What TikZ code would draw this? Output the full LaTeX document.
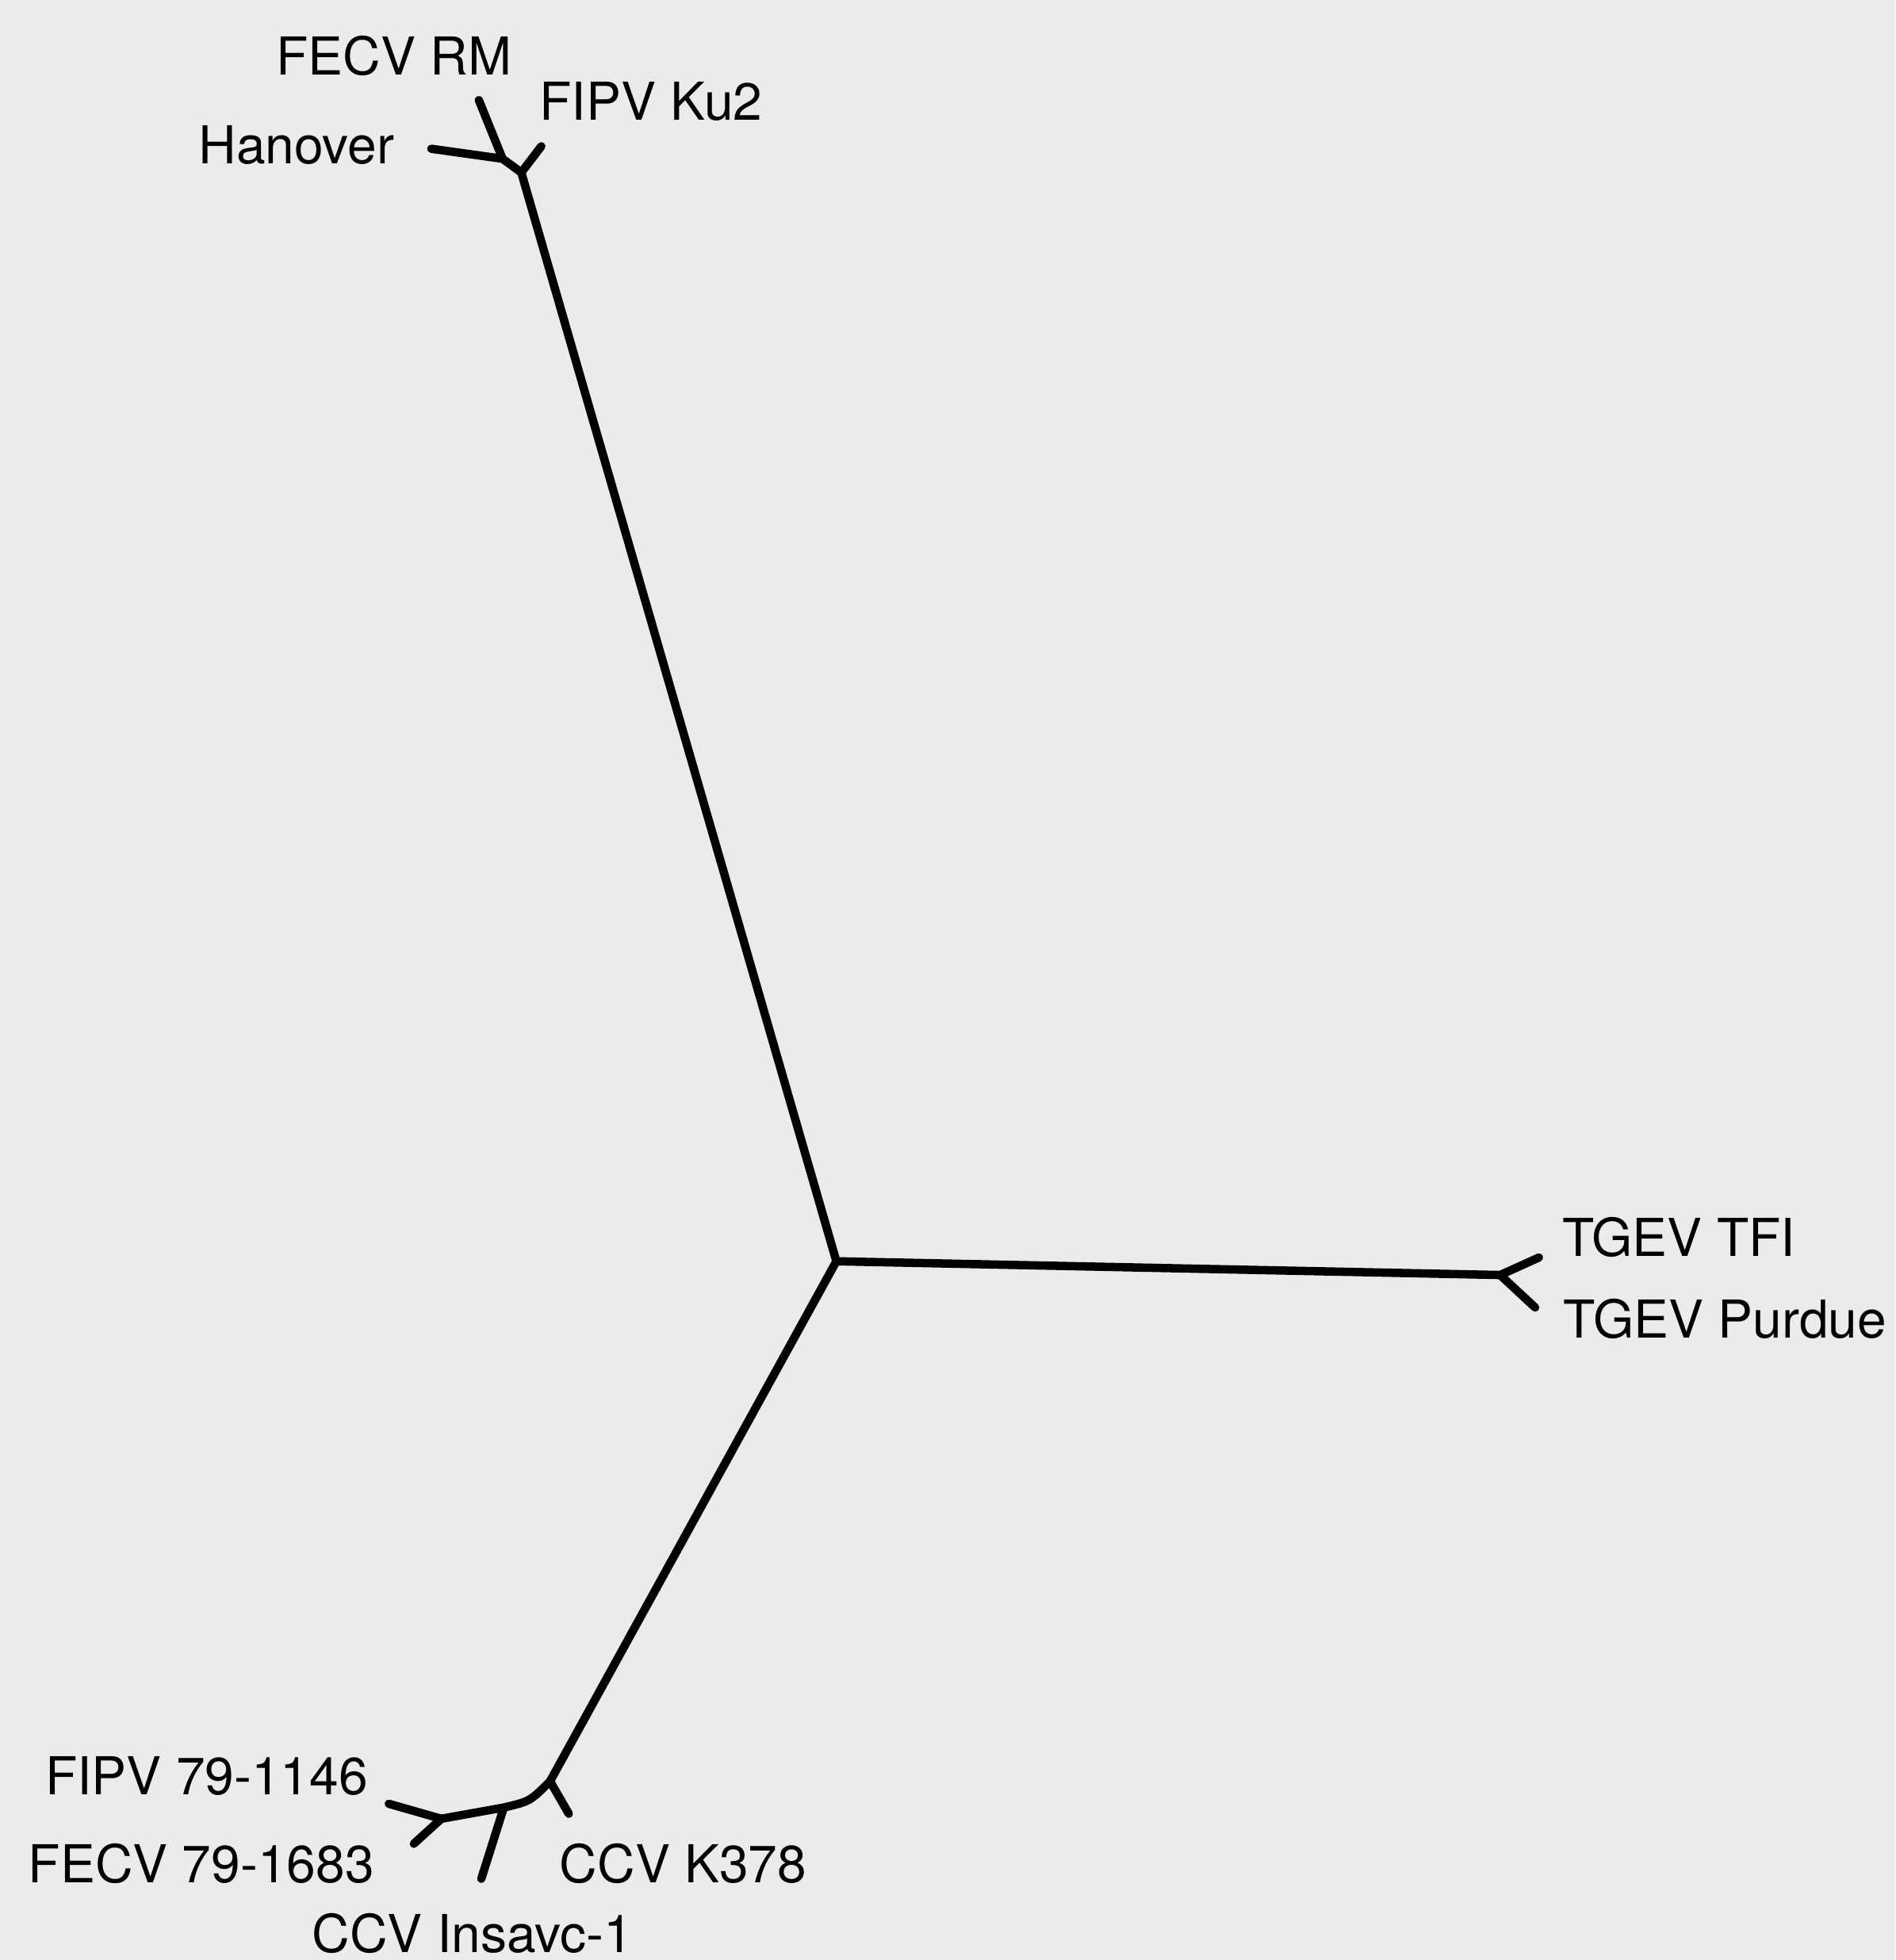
\documentclass[tikz,border=0pt]{standalone}
\usepackage{fontspec}
\setmainfont{TeX Gyre Heros}
\usepackage{tikz}

\begin{document}
\begin{tikzpicture}[
        x=0.1mm, y=-0.1mm,
        branch/.style={draw, line width=1.9pt, line cap=round, line join=round},
        taxon/.style={inner sep=0pt, font=\fontsize{11.9}{14}\selectfont}
    ]

    % background
    \fill[white!92!black] (0,0) rectangle (1516,1568);
    \useasboundingbox (0,0) rectangle (1516,1568);

    % inner junctions
    \coordinate (ctr) at (669,1009);
    \coordinate (felA) at (417,138);
    \coordinate (felB) at (402,127);
    \coordinate (tgev) at (1200,1020);
    \coordinate (ccvD) at (440,1425);
    \coordinate (ccvE) at (403,1446);
    \coordinate (ccvF) at (353,1455);

    % tips
    \coordinate (tKu2) at (433,117);
    \coordinate (tHan) at (345,119);
    \coordinate (tRM) at (383,80);
    \coordinate (tTFI) at (1231,1006);
    \coordinate (tPur) at (1228,1046);
    \coordinate (tK378) at (455,1451);
    \coordinate (tIns) at (385,1503);
    \coordinate (t1146) at (311,1443);
    \coordinate (t1683) at (331,1475);

    % labels
    \node[taxon] (lRM) at (315,45) {FECV RM};
    \node[taxon, anchor=west] (lKu2) at (431,81) {FIPV Ku2};
    \node[taxon, anchor=east] (lHan) at (316,116) {Hanover};
    \node[taxon, anchor=west] (lTFI) at (1249,990) {TGEV TFI};
    \node[taxon, anchor=west] (lPur) at (1250,1055) {TGEV Purdue};
    \node[taxon, anchor=east] (l1146) at (295,1421) {FIPV 79-1146};
    \node[taxon, anchor=east] (l1683) at (300,1491) {FECV 79-1683};
    \node[taxon, anchor=west] (lK378) at (447,1491) {CCV K378};
    \node[taxon] (lIns) at (378,1547) {CCV Insavc-1};

    % main branches
    \path[branch] (felA) -- (ctr) -- (tgev);
    \path[branch] (ctr) -- (ccvD);

    % feline cluster
    \path[branch] (felA) -- (tKu2);
    \path[branch] (felA) -- (felB) -- (tRM);
    \path[branch] (felB) -- (tHan);

    % TGEV cluster
    \path[branch] (tTFI) -- (tgev) -- (tPur);

    % CCV / FIPV cluster
    \path[branch] (ccvD) -- (tK378);
    \path[branch] (ccvD) .. controls (424,1441) .. (ccvE) -- (ccvF);
    \path[branch] (ccvE) -- (tIns);
    \path[branch] (t1146) -- (ccvF) -- (t1683);

\end{tikzpicture}
\end{document}
